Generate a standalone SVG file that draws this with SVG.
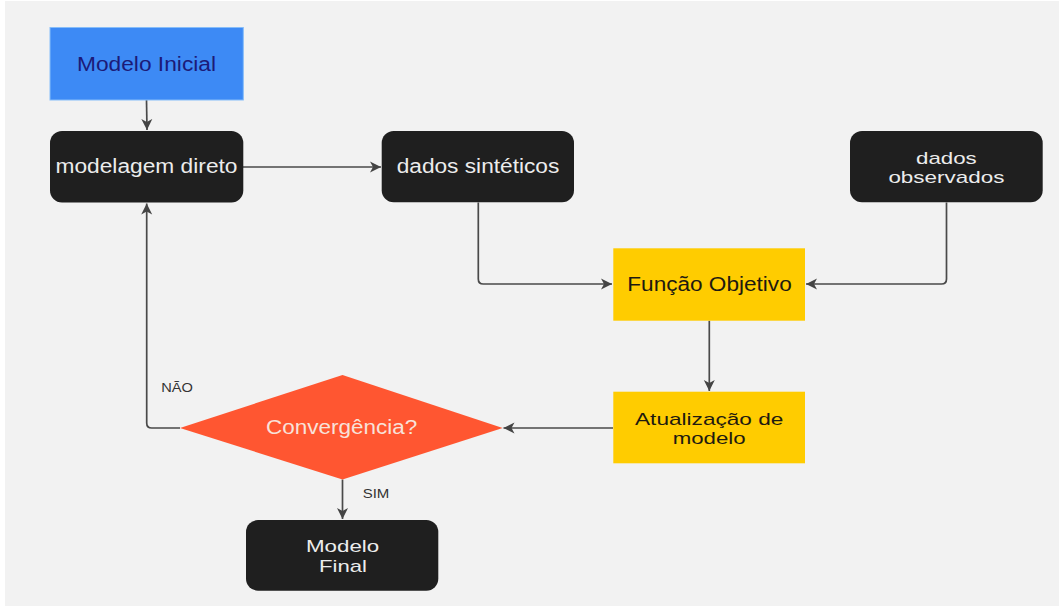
<svg xmlns="http://www.w3.org/2000/svg" width="1059" height="607" viewBox="0 0 1059 607">
<style>
  .lbl { font-family: "Liberation Sans", Arial, sans-serif; font-size: 19.5px; text-anchor: middle; }
  .two { font-size: 17px; }
  .dark { fill: #1f1f1f; }
  .dk-t { fill: #ececec; }
  .yel { fill: #ffcc00; }
  .yel-t { fill: #1e1a10; }
  .edge { fill: none; stroke: #4a4a4a; stroke-width: 1.7; marker-end: url(#arr); }
  .elbl { font-family: "Liberation Sans", Arial, sans-serif; font-size: 13px; fill: #333333; text-anchor: middle; }
</style>
<defs>
  <marker id="arr" markerUnits="userSpaceOnUse" markerWidth="12" markerHeight="12" viewBox="0 0 12 12" refX="11" refY="6" orient="auto">
    <path d="M0,0.5 L11,6 L0,11.5 L3,6 z" fill="#444444"/>
  </marker>
</defs>
<rect x="0" y="0" width="1059" height="607" fill="#ffffff"/>
<rect x="5" y="1" width="1054" height="605" fill="#f2f2f2"/>

<g id="connectors">
  <path class="edge" d="M146.5,100 L147,130"/>
  <path class="edge" d="M243,167 L381,167"/>
  <path class="edge" d="M478.3,202.5 L478.3,279 Q478.3,284 483.3,284 L612,284"/>
  <path class="edge" d="M946.5,202.5 L946.5,279 Q946.5,284 941.5,284 L806,284"/>
  <path class="edge" d="M709.3,320.7 L709.3,391"/>
  <path class="edge" d="M613,428 L503.5,428"/>
  <path class="edge" d="M180,428 L151.7,428 Q146.7,428 146.7,423 L146.7,203.5"/>
  <path class="edge" d="M342.5,479.5 L342.5,519"/>
  <text class="elbl" x="177" y="391.5" textLength="31.7" lengthAdjust="spacingAndGlyphs">NÃO</text>
  <text class="elbl" x="376" y="497.5" textLength="26.7" lengthAdjust="spacingAndGlyphs">SIM</text>
</g>

<g id="modelo-inicial">
  <rect x="50" y="27.5" width="193.3" height="72.5" fill="#3d8af5" stroke="#86bdf9" stroke-width="1"/>
  <text class="lbl" x="146.5" y="71" fill="#1c1a78" textLength="139" lengthAdjust="spacingAndGlyphs">Modelo Inicial</text>
</g>

<g id="modelagem-direto">
  <rect class="dark" x="50" y="131" width="193.3" height="71.5" rx="12"/>
  <text class="lbl dk-t" x="146.5" y="173.3" textLength="182" lengthAdjust="spacingAndGlyphs">modelagem direto</text>
</g>

<g id="dados-sinteticos">
  <rect class="dark" x="381.7" y="131" width="192.3" height="71.3" rx="12"/>
  <text class="lbl dk-t" x="478" y="173.3" textLength="162.6" lengthAdjust="spacingAndGlyphs">dados sintéticos</text>
</g>

<g id="dados-observados">
  <rect class="dark" x="850" y="131" width="192.7" height="71.3" rx="12"/>
  <text class="lbl two dk-t" x="946.4" y="163.5" textLength="60.7" lengthAdjust="spacingAndGlyphs">dados</text>
  <text class="lbl two dk-t" x="946.4" y="183" textLength="116" lengthAdjust="spacingAndGlyphs">observados</text>
</g>

<g id="funcao-objetivo">
  <rect class="yel" x="613.3" y="248.3" width="191.7" height="72.4"/>
  <text class="lbl yel-t" x="709.5" y="290.7" textLength="164.4" lengthAdjust="spacingAndGlyphs">Função Objetivo</text>
</g>

<g id="atualizacao">
  <rect class="yel" x="613.3" y="391.7" width="191.7" height="71.6"/>
  <text class="lbl two yel-t" x="709.2" y="424.5" textLength="148.3" lengthAdjust="spacingAndGlyphs">Atualização de</text>
  <text class="lbl two yel-t" x="709.2" y="444" textLength="73" lengthAdjust="spacingAndGlyphs">modelo</text>
</g>

<g id="convergencia">
  <polygon points="180,428 342.5,375 502.7,428 342.5,479.5" fill="#ff5631"/>
  <text class="lbl" x="341.7" y="434" fill="#f8e2da" textLength="151.3" lengthAdjust="spacingAndGlyphs">Convergência?</text>
</g>

<g id="modelo-final">
  <rect class="dark" x="246" y="520" width="192.3" height="70.7" rx="12"/>
  <text class="lbl two dk-t" x="342.6" y="552" textLength="73.3" lengthAdjust="spacingAndGlyphs">Modelo</text>
  <text class="lbl two dk-t" x="343" y="571.5" textLength="48" lengthAdjust="spacingAndGlyphs">Final</text>
</g>
</svg>
